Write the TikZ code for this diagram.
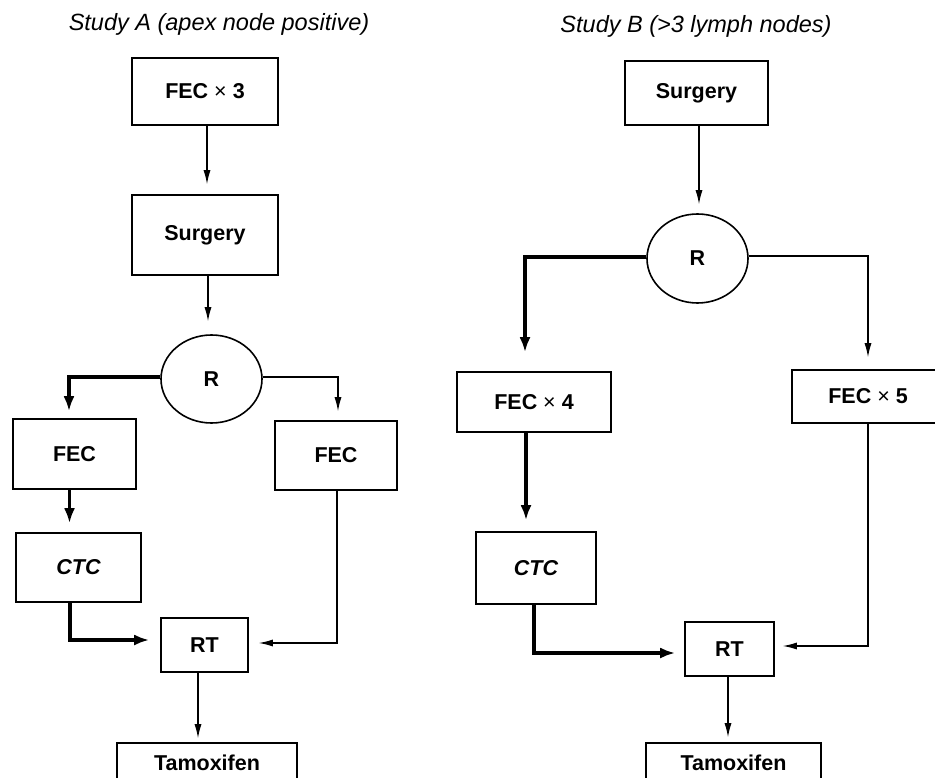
\documentclass[tikz,border=0pt]{standalone}
\usepackage{fontspec}
\setmainfont{Liberation Sans}
\usetikzlibrary{arrows.meta,shapes.geometric,calc}
\begin{document}
\begin{tikzpicture}[x=1pt,y=-1pt,
  box/.style={draw, line width=1.6pt, rectangle, inner sep=0pt, font=\fontsize{21.5}{24}\selectfont\bfseries},
  oval/.style={draw, line width=1.6pt, ellipse, inner sep=0pt, font=\fontsize{21.5}{24}\selectfont\bfseries},
  thinarrow/.style={line width=1.2pt, -{Latex[length=14pt,width=7pt]}},
  thickarrow/.style={line width=3.2pt, -{Latex[length=15pt,width=11pt]}},
  heading/.style={font=\fontsize{23.5}{26}\selectfont\itshape}
]
\useasboundingbox (0,0) rectangle (935,778);
\clip (0,0) rectangle (935,778);
\fill[white] (0,0) rectangle (935,778);

% Study A
\node[heading] (tA) at (219,24) {Study A (apex node positive)};
\node[box, minimum width=146pt, minimum height=67pt] (fecA3) at (205,91.5) {FEC {\mdseries×} 3};
\node[box, minimum width=146pt, minimum height=80pt] (surgA) at (205,235) {Surgery};
\node[oval, minimum width=101pt, minimum height=88pt] (RA) at (211.5,379) {R};
\node[box, minimum width=123pt, minimum height=70pt] (fecAL) at (74.5,454) {FEC};
\node[box, minimum width=125pt, minimum height=69pt] (ctcA) at (78.5,567.5) {\itshape CTC};
\node[box, minimum width=87pt, minimum height=54pt] (rtA) at (204.5,645) {RT};
\node[box, minimum width=122pt, minimum height=69pt] (fecAR) at (336,455.5) {FEC};
\node[box, minimum width=180pt, minimum height=40pt] (tamA) at (207,763) {Tamoxifen};

\draw[thinarrow, shorten >=10pt] ($(fecA3.south)+(2,0)$) -- ($(surgA.north)+(2,0)$);
\draw[thinarrow, shorten >=13pt] ($(surgA.south)+(3,0)$) -- ($(RA.north)+(-3.5,0)$);
\draw[thickarrow, shorten >=7pt] ($(RA.west)+(0,-2)$) -| ($(fecAL.north)+(-5.5,0)$);
\draw[thinarrow, shorten >=9pt] ($(RA.east)+(0,-2)$) -| ($(fecAR.north)+(2,0)$);
\draw[thickarrow, shorten >=9pt] ($(fecAL.south)+(-5,0)$) -- ($(ctcA.north)+(-9,0)$);
\draw[thickarrow, shorten >=11pt] ($(ctcA.south)+(-8.5,0)$) |- ($(rtA.west)+(0,-5)$);
\draw[thinarrow, shorten >=10pt] ($(fecAR.south)+(1,0)$) |- ($(rtA.east)+(0,-2)$);
\draw[thinarrow, shorten >=4pt] ($(rtA.south)+(-6.5,0)$) -- ($(tamA.north)+(-9,0)$);

% Study B
\node[heading] (tB) at (696,26) {Study B (>3 lymph nodes)};
\node[box, minimum width=143pt, minimum height=64pt] (surgB) at (696.5,93) {Surgery};
\node[oval, minimum width=101pt, minimum height=89pt] (RB) at (697.5,258.5) {R};
\node[box, minimum width=154pt, minimum height=60pt] (fecB4) at (534,402) {FEC {\mdseries×} 4};
\node[box, minimum width=152pt, minimum height=53pt] (fecB5) at (868,396.5) {FEC {\mdseries×} 5};
\node[box, minimum width=120pt, minimum height=72pt] (ctcB) at (536,568) {\itshape CTC};
\node[box, minimum width=89pt, minimum height=54pt] (rtB) at (729.5,649) {RT};
\node[box, minimum width=175pt, minimum height=40pt] (tamB) at (733.5,763) {Tamoxifen};

\draw[thinarrow, shorten >=9pt] ($(surgB.south)+(2.5,0)$) -- ($(RB.north)+(1.5,0)$);
\draw[thickarrow, shorten >=19pt] ($(RB.west)+(0,-1.5)$) -| ($(fecB4.north)+(-9,0)$);
\draw[thinarrow, shorten >=12pt] ($(RB.east)+(0,-2.5)$) -| (fecB5.north);
\draw[thickarrow, shorten >=11pt] ($(fecB4.south)+(-8,0)$) -- ($(ctcB.north)+(-10,0)$);
\draw[thickarrow, shorten >=9pt] ($(ctcB.south)+(-2,0)$) |- ($(rtB.west)+(0,4)$);
\draw[thinarrow, shorten >=8pt] (fecB5.south) |- ($(rtB.east)+(0,-3)$);
\draw[thinarrow, shorten >=5pt] ($(rtB.south)+(-1.5,0)$) -- ($(tamB.north)+(-5.5,0)$);
\end{tikzpicture}
\end{document}
